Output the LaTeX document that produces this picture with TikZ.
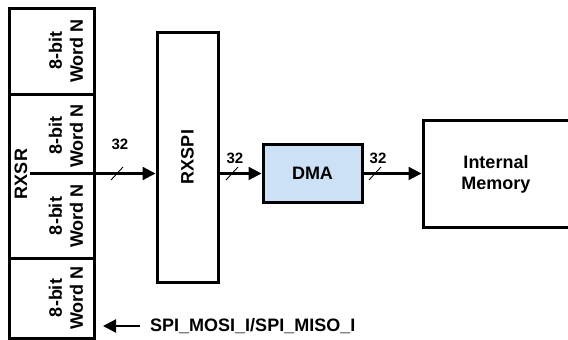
\documentclass[tikz,border=0pt]{standalone}
\usepackage{fontspec}
\setmainfont{Liberation Sans}
\usetikzlibrary{arrows.meta}
\definecolor{dmablue}{RGB}{204,224,246}
\begin{document}
\begin{tikzpicture}[x=1pt,y=-1pt,
  box/.style={draw,line width=3pt,inner sep=0pt},
  lbl/.style={font=\fontsize{18}{21}\selectfont\bfseries,align=center,inner sep=0pt},
  num/.style={font=\fontsize{15}{18}\selectfont\bfseries,inner sep=0pt},
  arr/.style={line width=2.2pt,-{Triangle[length=13pt,width=13pt]}},
  tick/.style={line width=0.9pt}]
\useasboundingbox (0,0) rectangle (568,340);
\clip (0,0) rectangle (568,340);
% left column
\node[box,minimum width=85pt,minimum height=86pt] (w1) at (51.5,51) {};
\node[box,minimum width=85pt,minimum height=164pt] (mid) at (51.5,176) {};
\node[box,minimum width=85pt,minimum height=80pt] (w4) at (51.5,298) {};
\node[lbl,rotate=90] (t1) at (66,51) {8-bit\\Word N};
\node[lbl,rotate=90] (t2) at (66,136) {8-bit\\Word N};
\node[lbl,rotate=90] (t3) at (66,216) {8-bit\\Word N};
\node[lbl,rotate=90] (t4) at (66,298) {8-bit\\Word N};
\node[lbl,rotate=90] (rxsr) at (21,174) {RXSR};
% blocks
\node[box,lbl,rotate=90,minimum width=250pt,minimum height=61pt] (rxspi) at (187.5,157) {RXSPI};
\node[box,lbl,fill=dmablue,minimum width=99pt,minimum height=58pt] (dma) at (312.5,173.5) {DMA};
\node[box,minimum width=177pt,minimum height=107pt] (mem) at (511.5,173.5) {};
\node[lbl] (memt) at (496,174) {Internal\\Memory};
% arrows
\coordinate (src) at (30,173.5);
\draw[arr] (src) -- (src -| rxspi.north);
\draw[arr] (rxspi.south |- dma.west) -- (dma.west);
\draw[arr] (dma.east) -- (dma.east -| mem.west);
% bus ticks and widths
\draw[tick] (111,180) -- (123,167);
\draw[tick] (226,180) -- (238,167);
\draw[tick] (369,180) -- (381,167);
\node[num] (n1) at (120,144) {32};
\node[num] (n2) at (235,158) {32};
\node[num] (n3) at (378,158) {32};
% input signal
\node[lbl,anchor=west] (spi) at (150,326) {SPI\_MOSI\_I/SPI\_MISO\_I};
\coordinate (tipA) at (103,326);
\draw[arr] ([xshift=-10pt]spi.west) -- (tipA);
\end{tikzpicture}
\end{document}
